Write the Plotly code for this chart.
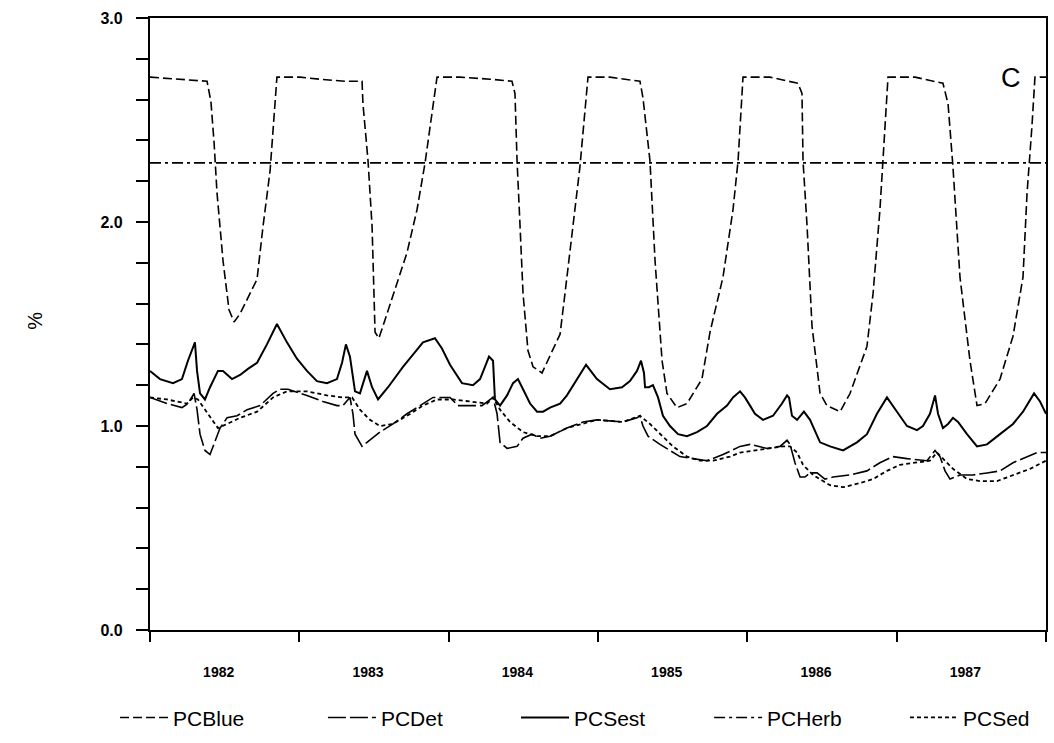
import plotly.graph_objects as go

# ---------------- data (decimal years, %) ----------------
blue_x = [1982.000, 1982.167, 1982.382, 1982.408, 1982.429, 1982.449, 1982.489, 1982.529, 1982.563, 1982.603,
          1982.717, 1982.757, 1982.804, 1982.850, 1983.004, 1983.138, 1983.306, 1983.420, 1983.426, 1983.460,
          1983.487, 1983.507, 1983.533, 1983.587, 1983.721, 1983.788, 1983.842, 1983.922, 1984.076, 1984.277,
          1984.424, 1984.444, 1984.458, 1984.478, 1984.498, 1984.531, 1984.565, 1984.625, 1984.746, 1984.779,
          1984.833, 1984.879, 1984.933, 1985.080, 1985.181, 1985.281, 1985.301, 1985.348, 1985.382, 1985.429,
          1985.462, 1985.529, 1985.596, 1985.696, 1985.750, 1985.837, 1985.904, 1985.938, 1985.971, 1986.152,
          1986.339, 1986.366, 1986.373, 1986.400, 1986.433, 1986.487, 1986.533, 1986.621, 1986.688, 1986.801,
          1986.842, 1986.888, 1986.908, 1986.942, 1987.123, 1987.310, 1987.344, 1987.377, 1987.424, 1987.491,
          1987.538, 1987.592, 1987.692, 1987.779, 1987.846, 1987.873, 1987.906, 1987.926, 1988.000]
blue_y = [2.71, 2.70, 2.69, 2.59, 2.39, 2.14, 1.81, 1.57, 1.51, 1.55,
          1.72, 1.98, 2.25, 2.71, 2.71, 2.70, 2.69, 2.69, 2.58, 2.30,
          1.98, 1.46, 1.43, 1.55, 1.85, 2.06, 2.29, 2.71, 2.71, 2.70,
          2.69, 2.63, 2.30, 1.98, 1.65, 1.37, 1.29, 1.26, 1.45, 1.65,
          1.98, 2.27, 2.71, 2.71, 2.70, 2.69, 2.61, 2.30, 1.81, 1.32,
          1.16, 1.09, 1.11, 1.23, 1.46, 1.73, 2.06, 2.30, 2.71, 2.71,
          2.68, 2.63, 2.30, 1.98, 1.49, 1.16, 1.10, 1.07, 1.16, 1.39,
          1.65, 2.06, 2.30, 2.71, 2.71, 2.68, 2.58, 2.27, 1.73, 1.32,
          1.10, 1.11, 1.23, 1.44, 1.73, 2.14, 2.47, 2.71, 2.71]

det_x = [1982.000, 1982.114, 1982.214, 1982.254, 1982.295, 1982.315, 1982.335, 1982.368, 1982.402, 1982.435,
         1982.469, 1982.516, 1982.583, 1982.650, 1982.737, 1982.824, 1982.871, 1982.924, 1983.051, 1983.158,
         1983.252, 1983.292, 1983.339, 1983.359, 1983.373, 1983.420, 1983.473, 1983.540, 1983.627, 1983.721,
         1983.808, 1983.895, 1984.009, 1984.062, 1984.223, 1984.277, 1984.297, 1984.324, 1984.344, 1984.391,
         1984.458, 1984.498, 1984.558, 1984.612, 1984.679, 1984.792, 1984.900, 1984.993, 1985.167, 1985.261,
         1985.281, 1985.301, 1985.335, 1985.415, 1985.482, 1985.549, 1985.636, 1985.730, 1985.837, 1985.951,
         1986.018, 1986.132, 1986.219, 1986.266, 1986.286, 1986.319, 1986.353, 1986.386, 1986.420, 1986.467,
         1986.520, 1986.574, 1986.688, 1986.801, 1986.888, 1986.975, 1987.069, 1987.203, 1987.257, 1987.290,
         1987.324, 1987.357, 1987.424, 1987.511, 1987.605, 1987.692, 1987.779, 1987.873, 1987.940, 1988.000]
det_y = [1.14, 1.11, 1.09, 1.11, 1.16, 1.08, 0.96, 0.88, 0.86, 0.92,
         0.99, 1.04, 1.05, 1.08, 1.10, 1.16, 1.18, 1.18, 1.15, 1.12,
         1.10, 1.10, 1.14, 1.06, 0.96, 0.90, 0.93, 0.97, 1.01, 1.06,
         1.10, 1.14, 1.14, 1.10, 1.10, 1.13, 1.14, 1.06, 0.92, 0.89,
         0.90, 0.94, 0.96, 0.94, 0.95, 0.99, 1.02, 1.03, 1.02, 1.04,
         1.05, 1.00, 0.95, 0.91, 0.88, 0.85, 0.84, 0.83, 0.86, 0.90,
         0.91, 0.89, 0.90, 0.93, 0.91, 0.82, 0.75, 0.75, 0.77, 0.77,
         0.74, 0.75, 0.76, 0.78, 0.82, 0.85, 0.84, 0.83, 0.88, 0.85,
         0.78, 0.74, 0.76, 0.76, 0.77, 0.78, 0.82, 0.85, 0.87, 0.87]

sest_x = [1982.000, 1982.067, 1982.154, 1982.214, 1982.254, 1982.288, 1982.301, 1982.315, 1982.335, 1982.368,
          1982.402, 1982.455, 1982.489, 1982.549, 1982.603, 1982.656, 1982.717, 1982.783, 1982.850, 1982.917,
          1982.984, 1983.051, 1983.118, 1983.185, 1983.252, 1983.286, 1983.312, 1983.339, 1983.373, 1983.406,
          1983.453, 1983.487, 1983.527, 1983.594, 1983.694, 1983.761, 1983.828, 1983.908, 1983.955, 1984.009,
          1984.089, 1984.163, 1984.210, 1984.243, 1984.270, 1984.297, 1984.310, 1984.344, 1984.391, 1984.431,
          1984.464, 1984.498, 1984.545, 1984.592, 1984.632, 1984.679, 1984.746, 1984.792, 1984.859, 1984.920,
          1984.993, 1985.080, 1985.161, 1985.214, 1985.261, 1985.288, 1985.308, 1985.315, 1985.341, 1985.368,
          1985.402, 1985.435, 1985.482, 1985.536, 1985.596, 1985.663, 1985.730, 1985.797, 1985.864, 1985.904,
          1985.951, 1985.984, 1986.018, 1986.051, 1986.105, 1986.172, 1986.232, 1986.266, 1986.279, 1986.299,
          1986.333, 1986.379, 1986.420, 1986.487, 1986.554, 1986.641, 1986.734, 1986.801, 1986.868, 1986.935,
          1987.002, 1987.069, 1987.136, 1987.176, 1987.223, 1987.257, 1987.277, 1987.310, 1987.344, 1987.377,
          1987.411, 1987.471, 1987.538, 1987.605, 1987.692, 1987.779, 1987.846, 1987.920, 1987.960, 1988.000]
sest_y = [1.27, 1.23, 1.21, 1.23, 1.32, 1.39, 1.41, 1.27, 1.16, 1.13,
          1.19, 1.27, 1.27, 1.23, 1.25, 1.28, 1.31, 1.40, 1.50, 1.41,
          1.33, 1.27, 1.22, 1.21, 1.23, 1.31, 1.40, 1.34, 1.17, 1.16,
          1.27, 1.19, 1.13, 1.19, 1.29, 1.35, 1.41, 1.43, 1.38, 1.30,
          1.21, 1.20, 1.23, 1.29, 1.34, 1.32, 1.13, 1.10, 1.15, 1.21,
          1.23, 1.18, 1.11, 1.07, 1.07, 1.09, 1.11, 1.15, 1.23, 1.30,
          1.23, 1.18, 1.19, 1.22, 1.27, 1.32, 1.26, 1.19, 1.19, 1.20,
          1.14, 1.05, 1.00, 0.96, 0.95, 0.97, 1.00, 1.06, 1.10, 1.14,
          1.17, 1.14, 1.10, 1.06, 1.03, 1.05, 1.11, 1.15, 1.14, 1.05,
          1.03, 1.07, 1.03, 0.92, 0.90, 0.88, 0.92, 0.96, 1.06, 1.14,
          1.07, 1.00, 0.98, 1.00, 1.06, 1.15, 1.06, 0.99, 1.01, 1.04,
          1.02, 0.96, 0.90, 0.91, 0.96, 1.01, 1.07, 1.16, 1.12, 1.06]

herb_x = [1982.0, 1988.0]
herb_y = [2.29, 2.29]

sed_x = [1982.000, 1982.114, 1982.248, 1982.288, 1982.321, 1982.368, 1982.415, 1982.455, 1982.516, 1982.603,
         1982.717, 1982.824, 1982.917, 1983.051, 1983.185, 1983.292, 1983.353, 1983.406, 1983.473, 1983.540,
         1983.627, 1983.721, 1983.828, 1983.922, 1984.029, 1984.143, 1984.257, 1984.297, 1984.344, 1984.411,
         1984.498, 1984.592, 1984.679, 1984.792, 1984.900, 1984.993, 1985.167, 1985.281, 1985.348, 1985.415,
         1985.502, 1985.596, 1985.683, 1985.770, 1985.884, 1985.951, 1986.038, 1986.152, 1986.239, 1986.286,
         1986.333, 1986.373, 1986.440, 1986.507, 1986.554, 1986.641, 1986.754, 1986.842, 1986.935, 1987.022,
         1987.136, 1987.223, 1987.270, 1987.310, 1987.377, 1987.471, 1987.558, 1987.672, 1987.779, 1987.893,
         1988.000]
sed_y = [1.14, 1.13, 1.11, 1.14, 1.13, 1.08, 1.03, 0.99, 1.01, 1.04,
         1.07, 1.14, 1.17, 1.17, 1.15, 1.14, 1.14, 1.08, 1.03, 1.00,
         1.01, 1.05, 1.10, 1.13, 1.13, 1.12, 1.11, 1.14, 1.08, 1.02,
         0.97, 0.95, 0.95, 0.99, 1.01, 1.03, 1.02, 1.05, 1.01, 0.96,
         0.90, 0.85, 0.83, 0.83, 0.85, 0.87, 0.88, 0.89, 0.90, 0.90,
         0.87, 0.81, 0.76, 0.73, 0.71, 0.70, 0.72, 0.74, 0.78, 0.81,
         0.82, 0.83, 0.87, 0.84, 0.79, 0.74, 0.73, 0.73, 0.76, 0.79,
         0.83]

years = [1982, 1983, 1984, 1985, 1986, 1987]
year_bounds = [1982, 1983, 1984, 1985, 1986, 1987, 1988]
y_ticks = [0.0, 0.2, 0.4, 0.6, 0.8, 1.0, 1.2, 1.4, 1.6, 1.8, 2.0, 2.2, 2.4, 2.6, 2.8, 3.0]
y_labels = {0.0: "0.0", 1.0: "1.0", 2.0: "2.0", 3.0: "3.0"}

# ---------------- figure ----------------
FONT = "Liberation Sans, Arial, sans-serif"
fig = go.Figure()
series = [
    ("PCBlue", blue_x, blue_y, "9px,4px", 1.6, "legend", -0.039),
    ("PCDet", det_x, det_y, "18px,4px", 1.6, "legend2", 0.193),
    ("PCSest", sest_x, sest_y, "solid", 2.0, "legend3", 0.4085),
    ("PCHerb", herb_x, herb_y, "11px,4px,3px,4px", 1.6, "legend4", 0.624),
    ("PCSed", sed_x, sed_y, "4px,3px", 1.8, "legend5", 0.8426),
]
legend_defs = {}
for name, xs, ys, dash, w, leg, lx in series:
    fig.add_trace(go.Scatter(x=xs, y=ys, mode="lines", name=name, legend=leg,
                             line=dict(color="black", width=w, dash=dash)))
    legend_defs[leg] = dict(orientation="h", x=lx, xanchor="left", y=-0.11, yanchor="top",
                            font=dict(size=21, family=FONT, color="black"),
                            itemwidth=48, bgcolor="rgba(0,0,0,0)")

label_offset = 0.46
fig.update_layout(
    width=1054, height=743,
    margin=dict(l=150, r=8, t=18, b=113, autoexpand=False),
    paper_bgcolor="white", plot_bgcolor="white",
    font=dict(family=FONT, color="black"),
    showlegend=True,
    xaxis=dict(range=[1982, 1988], showline=True, linewidth=2.2, linecolor="black", mirror=True,
               showgrid=False, zeroline=False, automargin=False,
               tickvals=[y + label_offset for y in years], ticktext=[str(y) for y in years],
               ticks="", ticklabelstandoff=28,
               tickfont=dict(size=14, weight="bold"),
               minor=dict(tickvals=year_bounds, ticks="outside", ticklen=10, tickwidth=1.5,
                          tickcolor="black", showgrid=False)),
    yaxis=dict(range=[0, 3], showline=True, linewidth=2.2, linecolor="black", mirror=True,
               showgrid=False, zeroline=False, automargin=False,
               tickvals=y_ticks, ticktext=[y_labels.get(round(v, 1), "") for v in y_ticks],
               ticks="outside", ticklen=12, tickwidth=1.5, tickcolor="black",
               ticklabelstandoff=10,
               tickfont=dict(size=16, weight="bold")),
    **legend_defs,
)

fig.add_annotation(text="C", xref="paper", yref="paper", x=0.9743, y=0.93,
                   showarrow=False, font=dict(size=27, family=FONT))
fig.add_annotation(text="%", xref="paper", yref="paper", x=-0.143, y=0.505,
                   showarrow=False, textangle=-90, font=dict(size=20, family=FONT))

fig.write_html("out.html")
